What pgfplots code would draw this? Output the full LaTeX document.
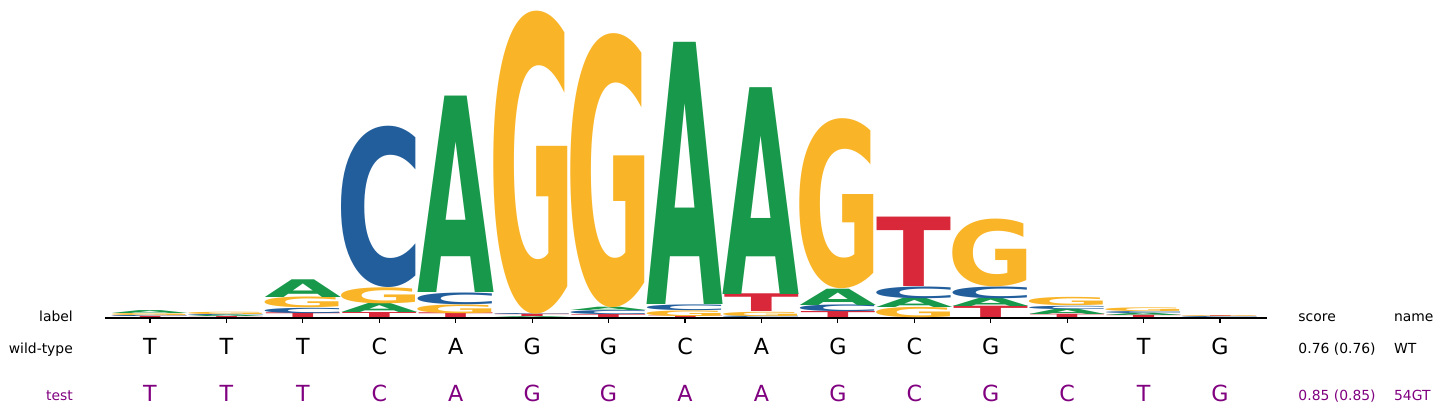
\documentclass[border=0pt]{standalone}
\usepackage{pgfplots}
\pgfplotsset{compat=1.18}
\usepackage{graphicx}
\usepackage{fontspec}
\setmainfont{DejaVu Sans}

\definecolor{logoA}{RGB}{24,152,74}
\definecolor{logoC}{RGB}{34,94,156}
\definecolor{logoG}{RGB}{249,180,40}
\definecolor{logoT}{RGB}{216,40,57}
\definecolor{testcol}{RGB}{128,0,128}

\newcommand{\smalltext}{\fontsize{13.9pt}{16pt}\selectfont}
\newcommand{\seqtext}{\fontsize{22.2pt}{26pt}\selectfont}

% box widths, so that the ink of each glyph is about 74pt wide
\def\logowA{77pt}
\def\logowC{88pt}
\def\logowG{87pt}
\def\logowT{75pt}
% glyph stretched to a given height (pt)
\protected\def\logoglyph#1#2{\resizebox*{\csname logow#1\endcsname}{#2pt}{\bfseries #1}}

% one letter of the logo: colour, letter, position, bottom, height
\newcommand{\logoletter}[5]{%
  \addplot[only marks, mark=none,
    nodes near coords={\logoglyph{#2}{#5}},
    every node near coord/.append style={anchor=south, inner sep=0pt, outer sep=0pt, text=#1}]
    coordinates {(#3,#4)};}
\newcommand{\letA}[3]{\logoletter{logoA}{A}{#1}{#2}{#3}}
\newcommand{\letC}[3]{\logoletter{logoC}{C}{#1}{#2}{#3}}
\newcommand{\letG}[3]{\logoletter{logoG}{G}{#1}{#2}{#3}}
\newcommand{\letT}[3]{\logoletter{logoT}{T}{#1}{#2}{#3}}

% the two sequences under the logo
\newcommand{\seqpair}[3]{%
  \node[anchor=base, inner sep=0pt, font=\seqtext] at (axis cs:#1,-37) {#2};
  \node[anchor=base, inner sep=0pt, font=\seqtext, text=testcol] at (axis cs:#1,-83) {#3};}

\begin{document}
\begin{tikzpicture}
\begin{axis}[
    x=76.43pt, y=1pt,
    xmin=-0.589, xmax=14.615,
    ymin=0, ymax=308,
    axis x line*=bottom,
    hide y axis,
    xtick={0,...,14},
    xticklabels={},
    tick align=outside,
    major tick length=4.9pt,
    tick style={black, line width=1.1pt},
    axis line style={black, line width=1.1pt},
    clip=false,
]
% x, bottom, height
\letT{0}{0}{1.2}   \letC{0}{1.2}{1.2}  \letG{0}{2.4}{2.0}   \letA{0}{4.4}{2.9}
\letT{1}{0}{1.0}   \letA{1}{1.0}{1.5}  \letC{1}{2.5}{1.2}   \letG{1}{3.7}{2.3}
\letT{2}{0}{4.7}   \letC{2}{4.7}{5.3}  \letG{2}{10.0}{10.7} \letA{2}{20.7}{17.7}
\letT{3}{0}{5.0}   \letA{3}{5.0}{9.0}  \letG{3}{14.0}{16.0} \letC{3}{30.0}{161.3}
\letT{4}{0}{4.7}   \letG{4}{4.7}{8.7}  \letC{4}{13.4}{11.7} \letA{4}{25.1}{196.2}
\letA{5}{0}{1.0}   \letT{5}{1.0}{2.3}  \letC{5}{3.3}{1.0}   \letG{5}{4.3}{303.0}
\letT{6}{0}{3.0}   \letC{6}{3.0}{4.0}  \letA{6}{7.0}{3.3}   \letG{6}{10.3}{274.0}
\letT{7}{0}{1.7}   \letG{7}{1.7}{5.7}  \letC{7}{7.4}{5.7}   \letA{7}{13.1}{261.9}
\letC{8}{0}{1.7}   \letG{8}{1.7}{4.3}  \letT{8}{6.0}{17.7}  \letA{8}{23.7}{206.6}
\letT{9}{0}{6.0}   \letC{9}{6.0}{6.7}  \letA{9}{12.7}{16.3} \letG{9}{29.0}{170.0}
\letG{10}{0}{10.3} \letA{10}{10.3}{9.3} \letC{10}{19.6}{11.7} \letT{10}{31.3}{69.4}
\letT{11}{0}{11.3} \letA{11}{11.3}{8.3} \letC{11}{19.6}{11.7} \letG{11}{31.3}{67.7}
\letT{12}{0}{3.3}  \letA{12}{3.3}{5.3} \letC{12}{8.6}{3.3}  \letG{12}{11.9}{8.3}
\letT{13}{0}{2.3}  \letA{13}{2.3}{2.3} \letC{13}{4.6}{2.0}  \letG{13}{6.6}{3.7}
\letC{14}{0}{1.0}  \letT{14}{1.0}{0.8} \letG{14}{1.8}{0.8}

\seqpair{0}{T}{T} \seqpair{1}{T}{T} \seqpair{2}{T}{T} \seqpair{3}{C}{C}
\seqpair{4}{A}{A} \seqpair{5}{G}{G} \seqpair{6}{G}{G} \seqpair{7}{C}{A}
\seqpair{8}{A}{A} \seqpair{9}{G}{G} \seqpair{10}{C}{C} \seqpair{11}{G}{G}
\seqpair{12}{C}{C} \seqpair{13}{T}{T} \seqpair{14}{G}{G}

\node[anchor=base east, inner sep=0pt, font=\smalltext] at (axis cs:-1.007,-4) {label};
\node[anchor=base east, inner sep=0pt, font=\smalltext] at (axis cs:-1.007,-35.3) {wild-type};
\node[anchor=base east, inner sep=0pt, font=\smalltext, text=testcol] at (axis cs:-1.007,-82) {test};
\node[anchor=base west, inner sep=0pt, font=\smalltext] at (axis cs:15.024,-4) {score};
\node[anchor=base west, inner sep=0pt, font=\smalltext] at (axis cs:16.275,-4) {name};
\node[anchor=base west, inner sep=0pt, font=\smalltext] at (axis cs:15.024,-35.3) {0.76 (0.76)};
\node[anchor=base west, inner sep=0pt, font=\smalltext] at (axis cs:16.275,-35.3) {WT};
\node[anchor=base west, inner sep=0pt, font=\smalltext, text=testcol] at (axis cs:15.024,-82) {0.85 (0.85)};
\node[anchor=base west, inner sep=0pt, font=\smalltext, text=testcol] at (axis cs:16.275,-82) {54GT};

\coordinate (bbsw) at (axis cs:-1.96258,-97);
\coordinate (bbne) at (axis cs:16.9044,318);
\end{axis}
\pgfresetboundingbox
\path (bbsw) rectangle (bbne);
\end{tikzpicture}
\end{document}
